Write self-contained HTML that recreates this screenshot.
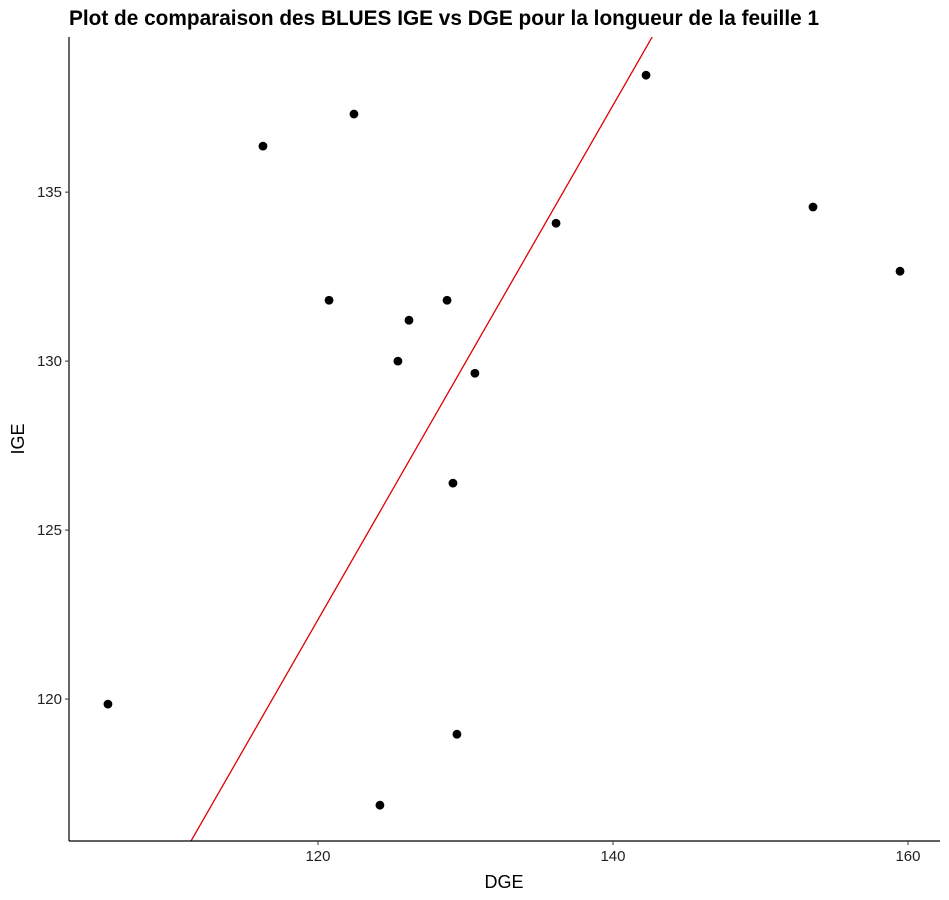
<!DOCTYPE html>
<html><head><meta charset="utf-8">
<style>
html,body{margin:0;padding:0;background:#fff;width:949px;height:900px;overflow:hidden;}
svg{display:block;font-family:"Liberation Sans",Arial,sans-serif;}
</style></head>
<body>
<svg id="chart" width="949" height="900" viewBox="0 0 949 900">
<text x="69" y="25" font-size="20.8" font-weight="bold" fill="#000">Plot de comparaison des BLUES IGE vs DGE pour la longueur de la feuille 1</text>
<defs><clipPath id="panel"><rect x="69" y="37" width="871" height="804"/></clipPath></defs>
<g id="marks" clip-path="url(#panel)"></g>
<g id="axes"></g>
<text x="504" y="888" font-size="18" text-anchor="middle" fill="#000">DGE</text>
<text x="24" y="439" font-size="18" text-anchor="middle" fill="#000" transform="rotate(-90 24 439)">IGE</text>
</svg>
<script>
const dgeValues = [105.76,116.27,122.44,120.75,125.42,126.17,128.75,129.15,130.64,129.42,124.20,136.14,142.24,153.56,159.46];
const igeValues = [119.85,136.36,137.31,131.80,130.00,131.21,131.80,126.39,129.64,118.96,116.86,134.08,138.46,134.56,132.66];
const xTicks = [120,140,160];
const yTicks = [120,125,130,135];
const lineIntercept = 31.03;
const lineSlope = 0.761;

const NS = "http://www.w3.org/2000/svg";
const X0 = 69, X1 = 940, Y0 = 841, Y1 = 37;
const xMin = 103.12, xMax = 162.17, yMin = 115.80, yMax = 139.59;
function sx(v){ return X0 + (v - xMin) / (xMax - xMin) * (X1 - X0); }
function sy(v){ return Y0 - (v - yMin) / (yMax - yMin) * (Y0 - Y1); }
function mk(tag, attrs, parent){ const e = document.createElementNS(NS, tag); for (const k in attrs) e.setAttribute(k, attrs[k]); parent.appendChild(e); return e; }

const marks = document.getElementById('marks');
const axes = document.getElementById('axes');

dgeValues.forEach((d, i) => {
  const c = mk('circle', {cx: sx(d), cy: sy(igeValues[i]), r: 4.4, fill: '#000'}, marks);
  
  
});

const lx1 = xMin - 5, lx2 = xMax + 5;
const ln = mk('line', {x1: sx(lx1), y1: sy(lineIntercept + lineSlope * lx1), x2: sx(lx2), y2: sy(lineIntercept + lineSlope * lx2), stroke: '#e00000', 'stroke-width': 1.3}, marks);



const xa = mk('line', {x1: X0, y1: Y0, x2: X1, y2: Y0, stroke: '#000', 'stroke-width': 1.2}, axes);


const ya = mk('line', {x1: X0, y1: Y0, x2: X0, y2: Y1, stroke: '#000', 'stroke-width': 1.2}, axes);



xTicks.forEach(t => {
  const x = sx(t);
  const tk = mk('line', {x1: x, y1: Y0, x2: x, y2: Y0 + 4, stroke: '#333', 'stroke-width': 1}, axes);
  
  
  const tx = mk('text', {x: x, y: Y0 + 20, 'font-size': 15, 'text-anchor': 'middle', fill: '#222'}, axes);
  tx.textContent = t;
  
  
});
yTicks.forEach(t => {
  const y = sy(t);
  const tk = mk('line', {x1: X0 - 4, y1: y, x2: X0, y2: y, stroke: '#333', 'stroke-width': 1}, axes);
  
  
  const tx = mk('text', {x: X0 - 7, y: y + 5, 'font-size': 15, 'text-anchor': 'end', fill: '#222'}, axes);
  tx.textContent = t;
  
  
});
</script>
</body></html>
